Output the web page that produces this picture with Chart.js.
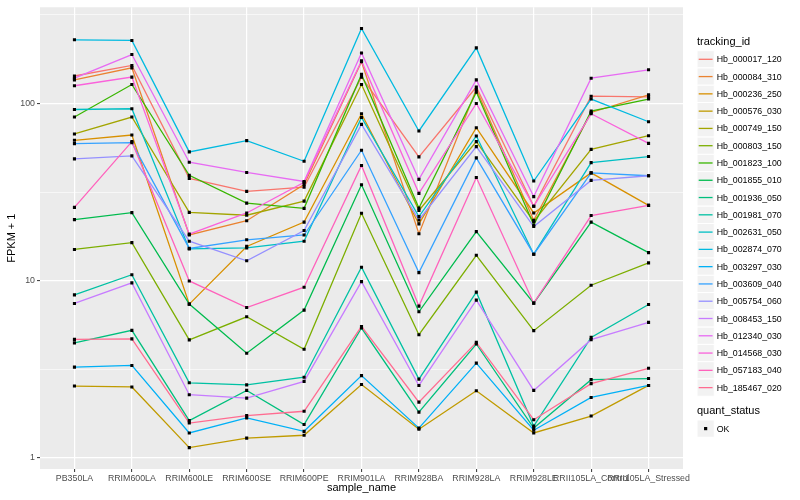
<!DOCTYPE html>
<html>
<head>
<meta charset="utf-8">
<title>FPKM by sample</title>
<script src="https://cdn.jsdelivr.net/npm/chart.js@4.4.0/dist/chart.umd.min.js"></script>
<style>
  body { margin: 0; background: #ffffff; font-family: "Liberation Sans", Arial, sans-serif; }
  #wrap { position: relative; width: 800px; height: 500px; }
  #chart { position: absolute; left: 0; top: 0; }
  #keys { position: absolute; left: 0; top: 0; }
  .lg { position: absolute; white-space: nowrap; color: #000000; }
</style>
</head>
<body>
<div id="wrap">
  <canvas id="chart" width="800" height="500"></canvas>
  <canvas id="keys" width="800" height="500"></canvas>
  <div id="legend"></div>
</div>
<script>
// categorie sull'asse x
const categories = ['PB350LA', 'RRIM600LA', 'RRIM600LE', 'RRIM600SE', 'RRIM600PE', 'RRIM901LA',
  'RRIM928BA', 'RRIM928LA', 'RRIM928LE', 'RRII105LA_Control', 'RRII105LA_Stressed'];

// valori FPKM + 1, una serie per tracking_id
const hb_000017_120 = [143, 164, 37.8, 31.9, 33.7, 141, 50.0, 124, 26.3, 110, 109];
const hb_000084_310 = [136, 159, 18.1, 21.8, 34.9, 172, 18.4, 120, 21.9, 89.0, 112];
const hb_000236_250 = [62.0, 66.4, 7.37, 15.6, 21.4, 87.5, 20.9, 73.0, 24.1, 40.6, 26.6];
const hb_000576_030 = [2.54, 2.51, 1.14, 1.29, 1.34, 2.59, 1.45, 2.39, 1.38, 1.72, 2.56];
const hb_000749_150 = [67.3, 83.9, 24.3, 23.4, 28.1, 128, 24.9, 60.9, 21.6, 55.1, 65.8];
const hb_000803_150 = [15.0, 16.4, 4.63, 6.25, 4.10, 24.0, 4.95, 13.9, 5.22, 9.42, 12.6];
const hb_001823_100 = [83.9, 128, 39.3, 27.4, 25.6, 146, 25.7, 116, 20.6, 90.6, 106];
const hb_001855_010 = [22.1, 24.2, 7.37, 3.89, 6.82, 34.8, 6.67, 18.9, 7.46, 21.4, 14.4];
const hb_001936_050 = [4.45, 5.24, 1.62, 2.40, 1.54, 5.40, 1.81, 4.39, 1.47, 2.76, 2.80];
const hb_001981_070 = [8.31, 10.8, 2.65, 2.58, 2.85, 11.9, 2.78, 8.61, 1.51, 4.78, 7.33];
const hb_002631_050 = [92.5, 93.4, 15.1, 15.3, 16.7, 83.4, 23.0, 65.6, 14.1, 46.4, 50.2];
const hb_002874_070 = [229, 227, 53.3, 61.7, 47.2, 265, 70.0, 206, 36.5, 106, 78.9];
const hb_003297_030 = [3.25, 3.32, 1.38, 1.68, 1.41, 2.91, 1.47, 3.42, 1.43, 2.19, 2.56];
const hb_003609_040 = [59.4, 60.1, 15.2, 17.0, 18.1, 54.5, 11.1, 49.3, 14.1, 40.6, 39.1];
const hb_005754_060 = [48.7, 50.6, 16.7, 12.95, 19.2, 76.2, 22.0, 57.1, 20.2, 36.8, 39.1];
const hb_008453_150 = [7.43, 9.71, 2.27, 2.17, 2.70, 9.87, 2.56, 7.76, 2.40, 4.64, 5.81];
const hb_012340_030 = [139, 189, 46.6, 40.8, 36.3, 193, 37.3, 136, 29.8, 139, 155];
const hb_014568_030 = [126, 141, 18.3, 24.1, 35.9, 174, 31.1, 100, 26.3, 87.5, 59.6];
const hb_057183_040 = [25.9, 60.9, 9.96, 7.05, 9.18, 44.7, 7.18, 38.2, 7.46, 23.3, 26.6];
const hb_185467_020 = [4.66, 4.69, 1.57, 1.73, 1.83, 5.51, 2.06, 4.48, 1.64, 2.62, 3.20];

const seriesNames = ['Hb_000017_120', 'Hb_000084_310', 'Hb_000236_250', 'Hb_000576_030', 'Hb_000749_150',
  'Hb_000803_150', 'Hb_001823_100', 'Hb_001855_010', 'Hb_001936_050', 'Hb_001981_070',
  'Hb_002631_050', 'Hb_002874_070', 'Hb_003297_030', 'Hb_003609_040', 'Hb_005754_060',
  'Hb_008453_150', 'Hb_012340_030', 'Hb_014568_030', 'Hb_057183_040', 'Hb_185467_020'];
const seriesValues = [hb_000017_120, hb_000084_310, hb_000236_250, hb_000576_030, hb_000749_150,
  hb_000803_150, hb_001823_100, hb_001855_010, hb_001936_050, hb_001981_070,
  hb_002631_050, hb_002874_070, hb_003297_030, hb_003609_040, hb_005754_060,
  hb_008453_150, hb_012340_030, hb_014568_030, hb_057183_040, hb_185467_020];
// palette hue di ggplot per 20 livelli
const seriesColors = ['#F8766D', '#EA8331', '#D89000', '#C09B00', '#A3A500',
  '#7CAE00', '#39B600', '#00BB4E', '#00BF7D', '#00C1A3',
  '#00BFC4', '#00BAE0', '#00B0F6', '#35A2FF', '#9590FF',
  '#C77CFF', '#E76BF3', '#FA62DB', '#FF62BC', '#FF6C91'];

// tick dell'asse y (log10)
const yTicks = [1, 10, 100];
const yTickLabels = ['1', '10', '100'];
const yMinor = [3.1623, 31.623, 316.23];

const FONT = '"Liberation Sans", Arial, sans-serif';
Chart.defaults.font.family = FONT;

// sfondo grigio del pannello
const panelBg = {
  id: 'panelBg',
  beforeDraw(chart) {
    const a = chart.chartArea;
    const ctx = chart.ctx;
    ctx.save();
    ctx.fillStyle = '#EBEBEB';
    ctx.fillRect(a.left, a.top, a.right - a.left, a.bottom - a.top);
    ctx.restore();
  }
};

const datasets = seriesValues.map((vals, i) => ({
  label: seriesNames[i],
  data: vals.map((v, j) => ({ x: j + 1, y: v })),
  borderColor: seriesColors[i],
  backgroundColor: seriesColors[i],
  borderWidth: 1.3,
  pointRadius: 0,
  fill: false,
  tension: 0,
  order: 100 - i
}));

// i punti neri vanno sopra tutte le linee
datasets.push({
  label: 'OK',
  data: seriesValues.flatMap(vals => vals.map((v, j) => ({ x: j + 1, y: v }))),
  showLine: false,
  pointStyle: 'rect',
  pointRadius: 2.2,
  pointBackgroundColor: '#000000',
  pointBorderWidth: 0,
  order: 0
});

new Chart(document.getElementById('chart').getContext('2d'), {
  type: 'line',
  data: { datasets: datasets },
  plugins: [panelBg],
  options: {
    responsive: false,
    animation: false,
    layout: { padding: { left: 0, right: 117, top: 5, bottom: 0 } },
    plugins: { legend: { display: false }, tooltip: { enabled: false } },
    scales: {
      x: {
        type: 'linear',
        min: 0.4,
        max: 11.6,
        afterBuildTicks: s => { s.ticks = categories.map((c, i) => ({ value: i + 1 })); },
        afterFit: s => { s.height = 31; },
        ticks: {
          autoSkip: false, maxRotation: 0, minRotation: 0, padding: 1,
          color: '#4D4D4D', font: { size: 8.8 },
          callback: v => categories[Math.round(v) - 1]
        },
        grid: { color: '#FFFFFF', lineWidth: 1.2, tickLength: 3, tickColor: '#333333', tickWidth: 1 },
        border: { display: false },
        title: { display: true, text: 'sample_name', color: '#000000', font: { size: 11 }, padding: { top: 0, bottom: 5 } }
      },
      y: {
        type: 'logarithmic',
        min: 0.864,
        max: 349.4,
        bounds: 'data',
        afterBuildTicks: s => {
          s.ticks = yTicks.concat(yMinor).sort((a, b) => a - b).map(v => ({ value: v }));
        },
        afterFit: s => { s.width = 40; },
        ticks: {
          autoSkip: false, padding: 2, color: '#4D4D4D', font: { size: 8.8 },
          callback: v => {
            const k = yTicks.indexOf(v);
            return k >= 0 ? yTickLabels[k] : '';
          }
        },
        grid: {
          color: '#FFFFFF',
          lineWidth: c => (c.tick && yTicks.includes(c.tick.value)) ? 1.2 : 0.6,
          tickColor: c => (c.tick && yTicks.includes(c.tick.value)) ? '#333333' : 'rgba(0,0,0,0)',
          tickLength: 3,
          tickWidth: 1
        },
        border: { display: false },
        title: { display: true, text: 'FPKM + 1', color: '#000000', font: { size: 11 }, padding: { top: 5, bottom: 0 } }
      }
    }
  }
});

// legenda stile ggplot: chiavi disegnate su canvas, testi in HTML
const legend = document.getElementById('legend');
const kctx = document.getElementById('keys').getContext('2d');
const KEY = 17.28;
const KEY_X = 697;

function addText(txt, left, cy, size) {
  const d = document.createElement('div');
  d.className = 'lg';
  d.textContent = txt;
  d.style.left = left + 'px';
  d.style.top = (cy - 10) + 'px';
  d.style.height = '20px';
  d.style.lineHeight = '20px';
  d.style.fontSize = size + 'px';
  legend.appendChild(d);
}

function drawKeyBox(cy) {
  kctx.fillStyle = '#F2F2F2';
  kctx.fillRect(KEY_X, cy - KEY / 2, KEY, KEY);
  kctx.strokeStyle = '#FFFFFF';
  kctx.lineWidth = 1;
  kctx.strokeRect(KEY_X, cy - KEY / 2, KEY, KEY);
}

addText('tracking_id', KEY_X, 40.7, 11);
seriesNames.forEach((name, i) => {
  const cy = 59.3 + i * KEY;
  drawKeyBox(cy);
  kctx.strokeStyle = seriesColors[i];
  kctx.lineWidth = 1.3;
  kctx.beginPath();
  kctx.moveTo(KEY_X + 1.7, cy);
  kctx.lineTo(KEY_X + KEY - 1.7, cy);
  kctx.stroke();
  addText(name, 716.7, cy, 8.8);
});

addText('quant_status', KEY_X, 410, 11);
const okY = 428.6;
drawKeyBox(okY);
kctx.fillStyle = '#000000';
kctx.fillRect(KEY_X + KEY / 2 - 1.6, okY - 1.6, 3.2, 3.2);
addText('OK', 716.7, okY, 8.8);
</script>
</body>
</html>
